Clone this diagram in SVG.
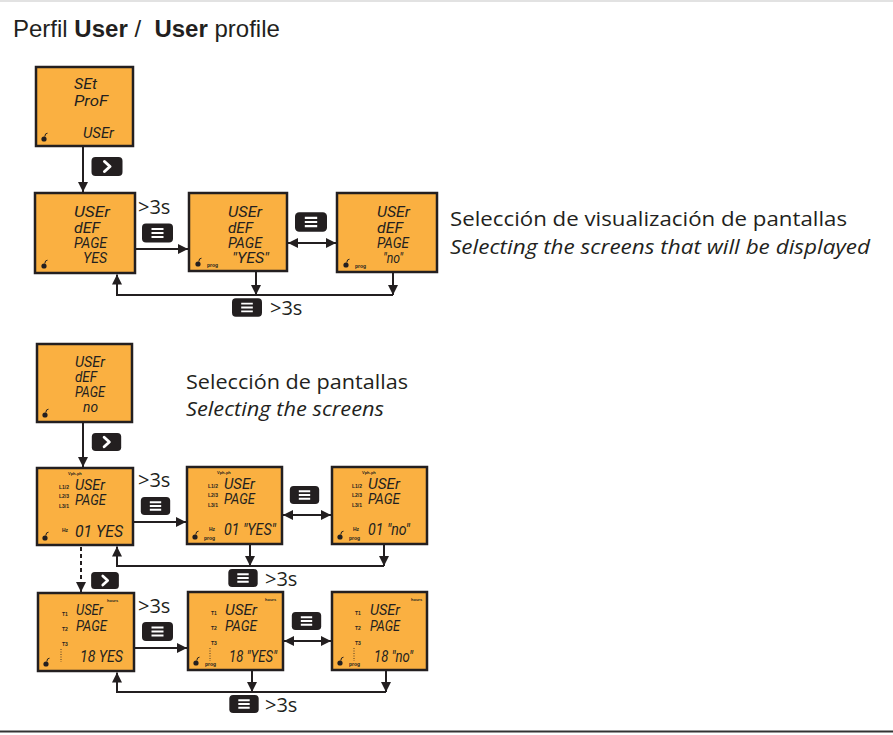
<svg xmlns="http://www.w3.org/2000/svg" xmlns:xlink="http://www.w3.org/1999/xlink" width="893" height="735" viewBox="0 0 893 735">
<style>
.scr{fill:#FAB041;stroke:#231F20;stroke-width:2.5}
.seg{font-family:Roboto,"DejaVu Sans Condensed",sans-serif;font-style:italic;font-weight:400;font-size:14px;fill:#231F20}
.segb{font-family:Roboto,"DejaVu Sans Condensed",sans-serif;font-style:italic;font-weight:400;font-size:17px;fill:#231F20}
.tiny{font-family:"Liberation Sans",Arial,sans-serif;font-size:5px;font-weight:bold;fill:#231F20}
.tiny4{font-family:"Liberation Sans",Arial,sans-serif;font-size:4px;font-weight:bold;fill:#231F20}
.lbl{font-family:"Open Sans","Noto Sans",sans-serif;font-size:20px;fill:#231F20}
.it{font-style:italic}
.t3{font-family:"Open Sans","Noto Sans",sans-serif;font-size:20px;fill:#231F20}
.ln{fill:none;stroke:#231F20;stroke-width:2}
.dash{fill:none;stroke:#231F20;stroke-width:2;stroke-dasharray:4 3}
</style>
<defs>
<marker id="ah" markerUnits="userSpaceOnUse" markerWidth="10" markerHeight="10" refX="10" refY="5" orient="auto-start-reverse" viewBox="0 0 10 10">
<path d="M0,0 L10,5 L0,10 z" fill="#231F20"/>
</marker>
<symbol id="menu" viewBox="0 0 31 19">
<rect x="0" y="0" width="31" height="19" rx="4" fill="#231F20"/>
<path d="M9.5,5.5 H21.5 M9.5,9.5 H21.5 M9.5,13.5 H21.5" stroke="#fff" stroke-width="2"/>
</symbol>
<symbol id="chev" viewBox="0 0 31 19">
<rect x="0" y="0" width="31" height="19" rx="4" fill="#231F20"/>
<path d="M13,4.5 L18.5,9.5 L13,14.5" fill="none" stroke="#fff" stroke-width="3" stroke-linecap="round" stroke-linejoin="round"/>
</symbol>
<symbol id="lock" viewBox="0 0 8 10" overflow="visible">
<circle cx="3" cy="7" r="2.6" fill="#231F20"/>
<path d="M3.8,4.6 Q4,1 6.5,1.2" fill="none" stroke="#231F20" stroke-width="1"/>
</symbol>
</defs>

<rect x="0" y="0" width="893" height="735" fill="#fff"/>
<line x1="0" y1="1" x2="893" y2="1" stroke="#d8d8d8" stroke-width="1.5"/>
<line x1="0" y1="731.5" x2="893" y2="731.5" stroke="#333" stroke-width="2"/>

<text x="13" y="37" font-family="Liberation Sans, Arial, sans-serif" font-size="24" fill="#231F20" xml:space="preserve">Perfil <tspan font-weight="bold">User</tspan> /  <tspan font-weight="bold">User</tspan> profile</text>

<text class="lbl" x="450" y="226" textLength="397" lengthAdjust="spacingAndGlyphs">Selección de visualización de pantallas</text>
<text class="lbl it" x="450" y="254" textLength="420" lengthAdjust="spacingAndGlyphs">Selecting the screens that will be displayed</text>
<text class="lbl" x="186" y="389" textLength="222" lengthAdjust="spacingAndGlyphs">Selección de pantallas</text>
<text class="lbl it" x="186" y="416" textLength="198" lengthAdjust="spacingAndGlyphs">Selecting the screens</text>

<g id="connectors">
<line class="ln" x1="83" y1="147" x2="83" y2="192" marker-end="url(#ah)"/>
<line class="ln" x1="136" y1="249" x2="188" y2="249" marker-end="url(#ah)"/>
<line class="ln" x1="288" y1="243" x2="336" y2="243" marker-start="url(#ah)" marker-end="url(#ah)"/>
<line class="ln" x1="256" y1="272" x2="256" y2="295" marker-end="url(#ah)"/>
<line class="ln" x1="393" y1="273" x2="393" y2="295" marker-end="url(#ah)"/>
<polyline class="ln" points="393,295 117,295 117,274.5" marker-end="url(#ah)"/>

<line class="ln" x1="83" y1="423" x2="83" y2="467" marker-end="url(#ah)"/>
<line class="ln" x1="134" y1="522" x2="186" y2="522" marker-end="url(#ah)"/>
<line class="ln" x1="283" y1="515" x2="331" y2="515" marker-start="url(#ah)" marker-end="url(#ah)"/>
<line class="ln" x1="250" y1="545" x2="250" y2="566" marker-end="url(#ah)"/>
<line class="ln" x1="384" y1="545" x2="384" y2="566" marker-end="url(#ah)"/>
<polyline class="ln" points="384,566 117,566 117,546.5" marker-end="url(#ah)"/>
<line class="dash" x1="81" y1="547" x2="81" y2="592" marker-end="url(#ah)"/>

<line class="ln" x1="135" y1="648" x2="187" y2="648" marker-end="url(#ah)"/>
<line class="ln" x1="284" y1="641" x2="331" y2="641" marker-start="url(#ah)" marker-end="url(#ah)"/>
<line class="ln" x1="252" y1="671" x2="252" y2="692" marker-end="url(#ah)"/>
<line class="ln" x1="386" y1="671" x2="386" y2="692" marker-end="url(#ah)"/>
<polyline class="ln" points="386,692 117,692 117,672.5" marker-end="url(#ah)"/>
</g>

<g id="buttons">
<use xlink:href="#chev" x="91" y="157" width="32" height="19"/>
<use xlink:href="#menu" x="142" y="223" width="31" height="20"/>
<use xlink:href="#menu" x="295" y="212" width="32" height="20"/>
<use xlink:href="#menu" x="232" y="298" width="30" height="19"/>
<use xlink:href="#chev" x="91" y="433" width="31" height="18"/>
<use xlink:href="#menu" x="140" y="497" width="31" height="18"/>
<use xlink:href="#menu" x="289" y="486" width="31" height="18"/>
<use xlink:href="#menu" x="228" y="569" width="30" height="18"/>
<use xlink:href="#chev" x="90" y="572" width="30" height="17"/>
<use xlink:href="#menu" x="142" y="622" width="31" height="19"/>
<use xlink:href="#menu" x="291" y="612" width="31" height="18"/>
<use xlink:href="#menu" x="229" y="695" width="30" height="18"/>
<text class="t3" x="138" y="214">&gt;3s</text>
<text class="t3" x="270" y="315">&gt;3s</text>
<text class="t3" x="138" y="487">&gt;3s</text>
<text class="t3" x="265" y="586">&gt;3s</text>
<text class="t3" x="138" y="613">&gt;3s</text>
<text class="t3" x="265" y="712">&gt;3s</text>
</g>

<g id="screen-setprof" transform="translate(36,67)">
<rect class="scr" x="0" y="0" width="97" height="79"/>
<text class="seg" x="38" y="22" textLength="23" lengthAdjust="spacingAndGlyphs">SEt</text>
<text class="seg" x="38" y="39" textLength="34" lengthAdjust="spacingAndGlyphs">ProF</text>
<text class="seg" x="47" y="71" textLength="31" lengthAdjust="spacingAndGlyphs">USEr</text>
<use xlink:href="#lock" x="5" y="65" width="8" height="10"/>
</g>

<g id="screen-def-yes" transform="translate(35,193)">
<rect class="scr" x="0" y="0" width="100" height="80"/>
<text class="seg" x="39" y="24" textLength="36" lengthAdjust="spacingAndGlyphs">USEr</text>
<text class="seg" x="39" y="40" textLength="26" lengthAdjust="spacingAndGlyphs">dEF</text>
<text class="seg" x="39" y="55" textLength="33" lengthAdjust="spacingAndGlyphs">PAGE</text>
<text class="seg" x="48" y="70" textLength="24" lengthAdjust="spacingAndGlyphs">YES</text>
<use xlink:href="#lock" x="6" y="66" width="8" height="10"/>
</g>

<g id="screen-def-yes-prog" transform="translate(189,193)">
<rect class="scr" x="0" y="0" width="98" height="78"/>
<text class="seg" x="39" y="24" textLength="34" lengthAdjust="spacingAndGlyphs">USEr</text>
<text class="seg" x="39" y="40" textLength="25" lengthAdjust="spacingAndGlyphs">dEF</text>
<text class="seg" x="39" y="55" textLength="34" lengthAdjust="spacingAndGlyphs">PAGE</text>
<text class="seg" x="43" y="70" textLength="37" lengthAdjust="spacingAndGlyphs">"YES"</text>
<use xlink:href="#lock" x="6" y="64" width="8" height="10"/>
<text class="tiny" x="18" y="74">prog</text>
</g>

<g id="screen-def-no-prog" transform="translate(337,193)">
<rect class="scr" x="0" y="0" width="100" height="79"/>
<text class="seg" x="40" y="24" textLength="33" lengthAdjust="spacingAndGlyphs">USEr</text>
<text class="seg" x="40" y="40" textLength="26" lengthAdjust="spacingAndGlyphs">dEF</text>
<text class="seg" x="40" y="55" textLength="32" lengthAdjust="spacingAndGlyphs">PAGE</text>
<text class="seg" x="46" y="70" textLength="20" lengthAdjust="spacingAndGlyphs">"no"</text>
<use xlink:href="#lock" x="6" y="65" width="8" height="10"/>
<text class="tiny" x="18" y="75">prog</text>
</g>

<g id="screen-def-no" transform="translate(37,344)">
<rect class="scr" x="0" y="0" width="95" height="78"/>
<text class="seg" x="38" y="23" textLength="30" lengthAdjust="spacingAndGlyphs">USEr</text>
<text class="seg" x="38" y="38" textLength="22" lengthAdjust="spacingAndGlyphs">dEF</text>
<text class="seg" x="38" y="53" textLength="30" lengthAdjust="spacingAndGlyphs">PAGE</text>
<text class="seg" x="46" y="68" textLength="15" lengthAdjust="spacingAndGlyphs">no</text>
<use xlink:href="#lock" x="5" y="64" width="8" height="10"/>
</g>

<g id="screen-01-yes" transform="translate(37,468)">
<rect class="scr" x="0" y="0" width="96" height="77"/>
<text class="tiny4" x="31" y="7">Vph-ph</text>
<text class="tiny" x="22" y="21">L1/2</text>
<text class="tiny" x="22" y="30">L2/3</text>
<text class="tiny" x="22" y="40">L3/1</text>
<text class="seg" x="38" y="22" textLength="30" lengthAdjust="spacingAndGlyphs">USEr</text>
<text class="seg" x="38" y="37" textLength="31" lengthAdjust="spacingAndGlyphs">PAGE</text>
<text class="tiny" x="25" y="64">Hz</text>
<text class="segb" x="38" y="69" textLength="48" lengthAdjust="spacingAndGlyphs">01 YES</text>
<use xlink:href="#lock" x="5" y="63" width="8" height="10"/>
</g>

<g id="screen-01-yes-prog" transform="translate(187,467)">
<rect class="scr" x="0" y="0" width="95" height="77"/>
<text class="tiny4" x="30" y="7">Vph-ph</text>
<text class="tiny" x="21" y="21">L1/2</text>
<text class="tiny" x="21" y="30">L2/3</text>
<text class="tiny" x="21" y="40">L3/1</text>
<text class="seg" x="37" y="22" textLength="31" lengthAdjust="spacingAndGlyphs">USEr</text>
<text class="seg" x="37" y="37" textLength="31" lengthAdjust="spacingAndGlyphs">PAGE</text>
<text class="tiny" x="22" y="64">Hz</text>
<text class="segb" x="37" y="68" textLength="52" lengthAdjust="spacingAndGlyphs">01 "YES"</text>
<use xlink:href="#lock" x="5" y="63" width="8" height="10"/>
<text class="tiny" x="17" y="73">prog</text>
</g>

<g id="screen-01-no-prog" transform="translate(332,467)">
<rect class="scr" x="0" y="0" width="95" height="77"/>
<text class="tiny4" x="30" y="7">Vph-ph</text>
<text class="tiny" x="20" y="21">L1/2</text>
<text class="tiny" x="20" y="30">L2/3</text>
<text class="tiny" x="20" y="40">L3/1</text>
<text class="seg" x="36" y="22" textLength="32" lengthAdjust="spacingAndGlyphs">USEr</text>
<text class="seg" x="36" y="37" textLength="32" lengthAdjust="spacingAndGlyphs">PAGE</text>
<text class="tiny" x="21" y="64">Hz</text>
<text class="segb" x="36" y="68" textLength="42" lengthAdjust="spacingAndGlyphs">01 "no"</text>
<use xlink:href="#lock" x="5" y="63" width="8" height="10"/>
<text class="tiny" x="17" y="73">prog</text>
</g>

<g id="screen-18-yes" transform="translate(38,593)">
<rect class="scr" x="0" y="0" width="96" height="78"/>
<text class="tiny4" x="69" y="9">hours</text>
<text class="tiny" x="24" y="23">T1</text>
<text class="tiny" x="24" y="38">T2</text>
<text class="tiny" x="24" y="53">T3</text>
<line x1="23" y1="56" x2="23" y2="69" stroke="#231F20" stroke-width="0.8" stroke-dasharray="1 1.5"/>
<text class="seg" x="38" y="22" textLength="27" lengthAdjust="spacingAndGlyphs">USEr</text>
<text class="seg" x="38" y="38" textLength="31" lengthAdjust="spacingAndGlyphs">PAGE</text>
<text class="segb" x="42" y="69" textLength="43" lengthAdjust="spacingAndGlyphs">18 YES</text>
<use xlink:href="#lock" x="5" y="64" width="8" height="10"/>
</g>

<g id="screen-18-yes-prog" transform="translate(188,592)">
<rect class="scr" x="0" y="0" width="95" height="78"/>
<text class="tiny4" x="77" y="9">hours</text>
<text class="tiny" x="23" y="23">T1</text>
<text class="tiny" x="23" y="38">T2</text>
<text class="tiny" x="23" y="53">T3</text>
<line x1="22" y1="56" x2="22" y2="69" stroke="#231F20" stroke-width="0.8" stroke-dasharray="1 1.5"/>
<text class="seg" x="37" y="23" textLength="32" lengthAdjust="spacingAndGlyphs">USEr</text>
<text class="seg" x="37" y="39" textLength="32" lengthAdjust="spacingAndGlyphs">PAGE</text>
<text class="segb" x="41" y="70" textLength="48" lengthAdjust="spacingAndGlyphs">18 "YES"</text>
<use xlink:href="#lock" x="5" y="64" width="8" height="10"/>
<text class="tiny" x="17" y="74">prog</text>
</g>

<g id="screen-18-no-prog" transform="translate(332,592)">
<rect class="scr" x="0" y="0" width="95" height="78"/>
<text class="tiny4" x="79" y="9">hours</text>
<text class="tiny" x="23" y="23">T1</text>
<text class="tiny" x="23" y="38">T2</text>
<text class="tiny" x="23" y="53">T3</text>
<line x1="22" y1="56" x2="22" y2="69" stroke="#231F20" stroke-width="0.8" stroke-dasharray="1 1.5"/>
<text class="seg" x="38" y="23" textLength="30" lengthAdjust="spacingAndGlyphs">USEr</text>
<text class="seg" x="38" y="39" textLength="30" lengthAdjust="spacingAndGlyphs">PAGE</text>
<text class="segb" x="42" y="70" textLength="39" lengthAdjust="spacingAndGlyphs">18 "no"</text>
<use xlink:href="#lock" x="5" y="64" width="8" height="10"/>
<text class="tiny" x="17" y="74">prog</text>
</g>
</svg>
